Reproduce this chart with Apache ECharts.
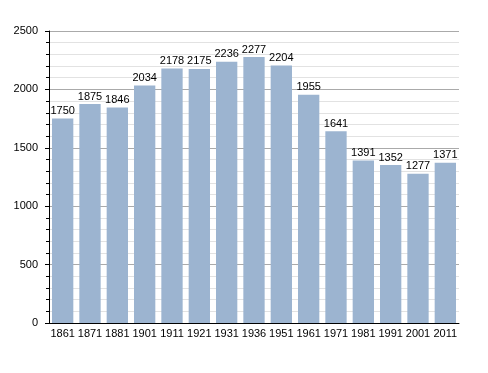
<!DOCTYPE html>
<html><head><meta charset="utf-8">
<script src="https://cdn.jsdelivr.net/npm/echarts@6/dist/echarts.min.js"></script>
<style>html,body{margin:0;padding:0;background:#fff}#c{width:488px;height:373px}</style>
</head><body><div id="c"></div>
<script>
const years = ["1861","1871","1881","1901","1911","1921","1931","1936","1951","1961","1971","1981","1991","2001","2011"];
const population = [1750,1875,1846,2034,2178,2175,2236,2277,2204,1955,1641,1391,1352,1277,1371];
const chart = echarts.init(document.getElementById('c'), null, {renderer:'canvas'});
chart.setOption({
  animation:false,
  grid:{left:49,right:29,top:31,bottom:50},
  textStyle:{fontFamily:'Liberation Sans, Arial, sans-serif'},
  xAxis:{type:'category',data:years,
    axisLine:{lineStyle:{color:'#000',width:1}},
    axisTick:{show:false},
    axisLabel:{color:'#000',fontSize:11,margin:5,interval:0}},
  yAxis:{type:'value',min:0,max:2500,interval:500,
    axisLine:{show:true,lineStyle:{color:'#000'}},
    axisTick:{show:true,length:4,inside:false,lineStyle:{color:'#000'}},
    minorTick:{show:true,splitNumber:5,length:3,lineStyle:{color:'#000'}},
    splitLine:{lineStyle:{color:'#aaa'}},
    minorSplitLine:{show:true,lineStyle:{color:'#e2e2e2'}},
    axisLabel:{color:'#000',fontSize:11,margin:11,formatter:v=>String(v)}},
  series:[{type:'bar',data:population,barCategoryGap:'22%',
    itemStyle:{color:'#9cb4d0'},
    label:{show:true,position:'top',color:'#000',fontSize:11,distance:2}}]
});
</script></body></html>
